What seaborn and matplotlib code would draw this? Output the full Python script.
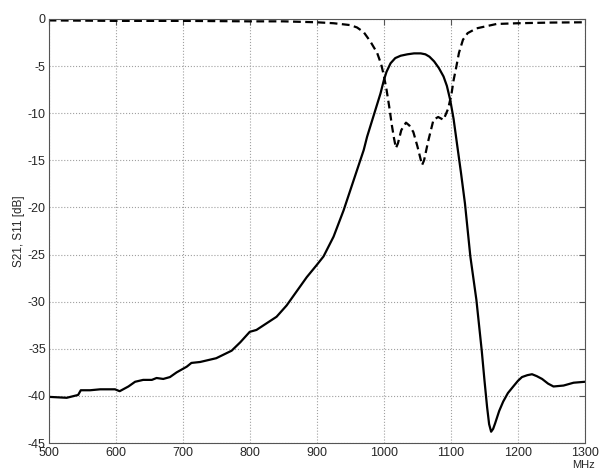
import numpy as np
import pandas as pd
import matplotlib
matplotlib.use("Agg")
import matplotlib.pyplot as plt
import seaborn as sns

# S21 (solid), MHz / dB
s21_freq = [500, 527, 544, 548, 562, 577, 599, 606, 619, 629, 641, 654, 661, 671,
            681, 691, 706, 713, 726, 750, 773, 786, 800, 810, 825, 840, 855, 868,
            885, 900, 910, 925, 940, 955, 970, 975, 985, 995, 1000, 1004, 1010,
            1017, 1025, 1035, 1045, 1055, 1062, 1068, 1075, 1082, 1089, 1094, 1099,
            1104, 1109, 1115, 1121, 1129, 1138, 1146, 1150, 1154, 1157, 1160, 1163,
            1166, 1172, 1178, 1185, 1193, 1200, 1206, 1214, 1221, 1228, 1236, 1245,
            1253, 1268, 1283, 1300]
s21_db = [-40.1, -40.2, -39.9, -39.4, -39.4, -39.3, -39.3, -39.5, -39.0, -38.5,
          -38.3, -38.3, -38.1, -38.2, -38.0, -37.5, -36.9, -36.5, -36.4, -36.0,
          -35.2, -34.3, -33.2, -33.0, -32.3, -31.6, -30.4, -29.1, -27.4, -26.1,
          -25.2, -23.1, -20.3, -17.1, -13.9, -12.5, -10.2, -7.9, -6.5, -5.6, -4.7,
          -4.15, -3.9, -3.75, -3.65, -3.65, -3.75, -4.0, -4.5, -5.2, -6.1, -7.1,
          -8.6, -10.6, -13.2, -16.3, -19.6, -25.2, -29.8, -35.2, -38.3, -41.2,
          -43.0, -43.8, -43.5, -42.9, -41.6, -40.6, -39.7, -39.0, -38.4, -38.0,
          -37.8, -37.7, -37.9, -38.2, -38.7, -39.0, -38.9, -38.6, -38.5]

# S11 (dashed)
s11_freq = [500, 600, 700, 800, 850, 875, 900, 925, 950, 960, 970, 980, 990, 996,
            1000, 1004, 1008, 1012, 1015, 1018, 1021, 1026, 1033, 1038, 1044, 1050,
            1057, 1060, 1066, 1074, 1081, 1089, 1096, 1101, 1104, 1108, 1112, 1118,
            1125, 1138, 1168, 1200, 1250, 1300]
s11_db = [-0.15, -0.2, -0.2, -0.25, -0.25, -0.3, -0.35, -0.45, -0.65, -0.9, -1.4,
          -2.4, -3.6, -4.8, -6.0, -7.5, -9.3, -11.3, -12.6, -13.7, -13.2, -11.8,
          -11.0, -11.3, -12.0, -13.5, -15.5, -15.0, -13.0, -10.7, -10.4, -10.7,
          -9.5, -7.9, -6.5, -5.1, -3.6, -2.2, -1.5, -1.0, -0.53, -0.45, -0.38,
          -0.35]

df21 = pd.DataFrame({"f": s21_freq, "db": s21_db})
df11 = pd.DataFrame({"f": s11_freq, "db": s11_db})

sns.set_style("white")
plt.rcParams["font.family"] = ["Liberation Sans", "DejaVu Sans"]
plt.rcParams["axes.unicode_minus"] = False

fig = plt.figure(figsize=(6, 4.7), dpi=100)
ax = fig.add_axes([0.081, 0.0574, 0.894, 0.9022])

sns.lineplot(data=df21, x="f", y="db", ax=ax, color="black", lw=1.6)
sns.lineplot(data=df11, x="f", y="db", ax=ax, color="black", lw=1.6,
             linestyle=(0, (3.5, 2)))

ax.set_xlim(500, 1300)
ax.set_ylim(-45, 0)
ax.set_xticks(np.arange(500, 1301, 100))
ax.set_yticks(np.arange(-45, 1, 5))
ax.grid(True, linestyle=":", color="#a0a0a0", lw=0.8)
ax.tick_params(direction="in", length=4, top=True, right=True,
               labelsize=9, color="#555555")
ax.tick_params(axis="y", pad=2)
ax.tick_params(axis="x", pad=3)
for sp in ax.spines.values():
    sp.set_color("#555555")
    sp.set_linewidth(0.8)

ax.set_xlabel("")
ax.set_ylabel("S21, S11 [dB]", fontsize=8.5, labelpad=2)
fig.text(0.972, 0.001, "MHz", ha="center", va="bottom", fontsize=8)

fig.savefig("out.png", dpi=100)
